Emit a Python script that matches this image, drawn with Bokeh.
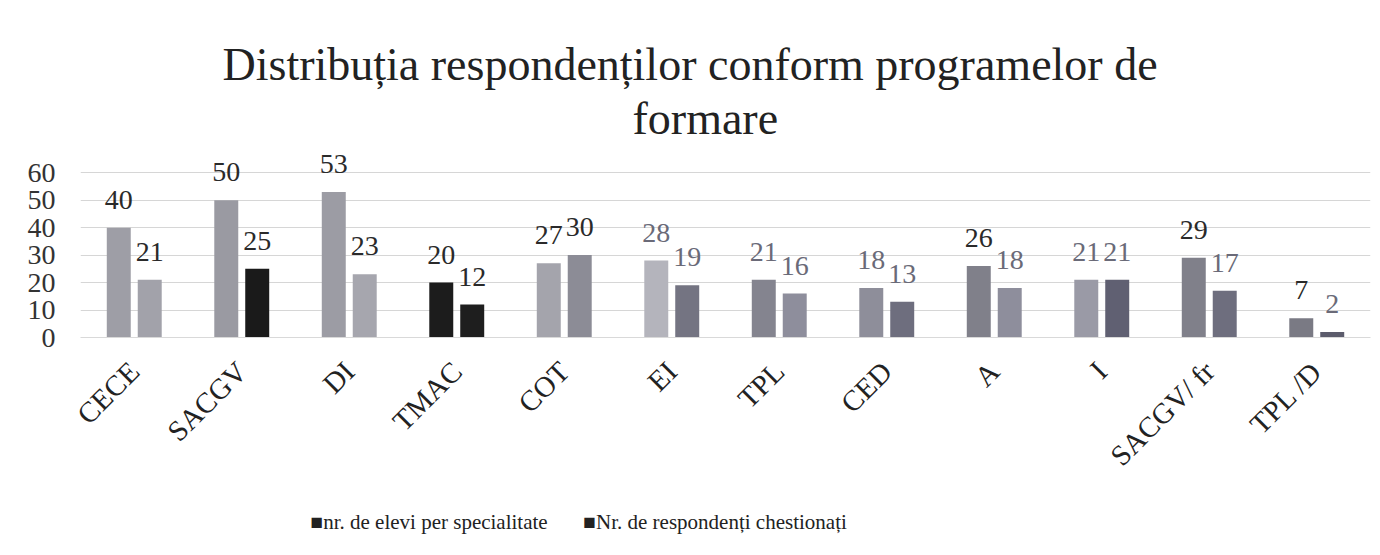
import math
from bokeh.plotting import figure
from bokeh.models import ColumnDataSource, FactorRange, Range1d, FixedTicker, Title
from bokeh.transform import dodge
from bokeh.core.properties import value
from bokeh.embed import file_html
from bokeh.resources import INLINE

# ---- data ----
categories = ["CECE", "SACGV", "DI", "TMAC", "COT", "EI", "TPL", "CED", "A", "I", "SACGV/ fr", "TPL /D"]
elevi = [40, 50, 53, 20, 27, 28, 21, 18, 26, 21, 29, 7]
respondenti = [21, 25, 23, 12, 30, 19, 16, 13, 18, 21, 17, 2]
y_ticks = [0, 10, 20, 30, 40, 50, 60]
title_lines = ["Distribuția respondenților conform programelor de", "formare"]
series_names = ["nr. de elevi per specialitate", "Nr. de respondenți chestionați"]

# ---- styles (scanned greyscale look) ----
elevi_colors = ["#9e9ea6", "#9a9aa2", "#9c9ca4", "#1c1c1c", "#a4a4ac", "#b4b4bc",
                "#84848f", "#8e8e9a", "#80808a", "#9a9aa6", "#80808a", "#7a7a84"]
resp_colors = ["#a2a2aa", "#1a1a1a", "#a6a6ae", "#1e1e1e", "#8c8c96", "#747482",
               "#8e8e9c", "#6e6e7e", "#8e8e9c", "#606072", "#6e6e7e", "#5c5c6c"]
dark, grey = "#2a2a2a", "#6a6a78"
elevi_lbl = [dark, dark, dark, dark, dark, grey, grey, grey, dark, grey, dark, dark]
resp_lbl = [dark, dark, dark, dark, dark, grey, grey, grey, grey, grey, grey, grey]

FONT = "Liberation Serif"

p = figure(width=1380, height=555, title=None,
           x_range=FactorRange(factors=categories),
           y_range=Range1d(0, 67),
           output_backend="svg", toolbar_location=None,
           min_border_left=80, min_border_right=10,
           min_border_top=153, min_border_bottom=218)
p.outline_line_color = None
p.background_fill_color = "white"
p.border_fill_color = "white"

src_e = ColumnDataSource(dict(cat=categories, v=elevi, c=elevi_colors,
                              t=[str(v) for v in elevi], lc=elevi_lbl))
src_r = ColumnDataSource(dict(cat=categories, v=respondenti, c=resp_colors,
                              t=[str(v) for v in respondenti], lc=resp_lbl))

off = 0.144
bw = 0.223
p.vbar(x=dodge("cat", -off, range=p.x_range), top="v", width=bw, source=src_e,
       fill_color="c", line_color=None)
p.vbar(x=dodge("cat", off, range=p.x_range), top="v", width=bw, source=src_r,
       fill_color="c", line_color=None)

for src, d in ((src_e, -off), (src_r, off)):
    p.text(x=dodge("cat", d, range=p.x_range), y="v", text="t", source=src,
           text_font=value(FONT), text_font_size="28px", text_color="lc",
           text_align="center", text_baseline="bottom", y_offset=-19)

# axes
p.yaxis.ticker = FixedTicker(ticks=y_ticks)
p.ygrid.ticker = FixedTicker(ticks=y_ticks)
p.yaxis.axis_line_color = None
p.yaxis.major_tick_line_color = None
p.yaxis.minor_tick_line_color = None
p.yaxis.major_label_text_font = FONT
p.yaxis.major_label_text_font_size = "28px"
p.yaxis.major_label_text_color = "#333333"
p.yaxis.major_label_standoff = 19

p.xaxis.axis_line_color = "#d9d9d9"
p.xaxis.major_tick_line_color = None
p.xaxis.minor_tick_line_color = None
p.xaxis.major_label_orientation = math.pi / 4
p.xaxis.major_label_text_font = FONT
p.xaxis.major_label_text_font_size = "29px"
p.xaxis.major_label_text_color = "#222222"
p.xaxis.major_label_standoff = 23

p.xgrid.grid_line_color = None
p.ygrid.grid_line_color = "#d6d6d6"
p.ygrid.grid_line_width = 1

# title: two lines (first added sits nearest the plot)
p.add_layout(Title(text=title_lines[1], align="left", offset=552, standoff=19,
                   text_font=FONT, text_font_size="46px", text_font_style="normal",
                   text_color="#222222"), "above")
p.add_layout(Title(text=title_lines[0], align="left", offset=142, standoff=-17,
                   text_font=FONT, text_font_size="46px", text_font_style="normal",
                   text_color="#222222"), "above")

# legend line below the axis
legend_text = ("\u25a0" + series_names[0] + "\u2003\u2002\u2009\u25a0" + series_names[1])
p.add_layout(Title(text=legend_text, align="left", offset=230, standoff=42,
                   text_font=FONT, text_font_size="21px", text_font_style="normal",
                   text_color="#222222"), "below")

open("out.html", "w").write(file_html(p, INLINE))
